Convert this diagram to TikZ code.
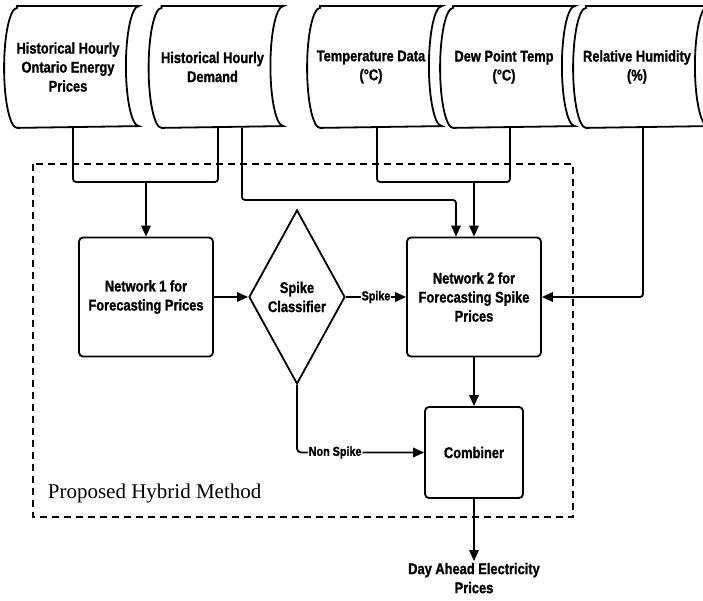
\documentclass[tikz,border=0pt]{standalone}
\usepackage{fontspec}
\setmainfont{Liberation Serif}
\newfontfamily\boxfont[FakeStretch=0.83,FakeBold=1.2]{Liberation Sans}
\usetikzlibrary{arrows.meta,shapes.geometric}

\tikzset{
  lbl/.style={font=\boxfont\bfseries\fontsize{15.5}{19}\selectfont, align=center},
  store/.style={lbl, minimum width=120pt, minimum height=120pt, inner sep=0pt},
  box/.style={lbl, draw, rounded corners=4pt, minimum width=134pt, minimum height=119pt, inner sep=2pt},
  tag/.style={font=\boxfont\bfseries\fontsize{13}{14}\selectfont, fill=white, inner sep=1pt},
  arr/.style={-{Triangle[length=11pt,width=9.5pt]}},
}

\begin{document}
\begin{tikzpicture}[x=1pt,y=1pt,line width=1.8pt]
\useasboundingbox (0,0) rectangle (703,-601);

% data sources
\foreach \n/\x/\t in {d1/68/{Historical Hourly\\Ontario Energy\\Prices},
                      d2/212.5/{Historical Hourly\\Demand},
                      d3/371/{Temperature Data\\(°C)},
                      d4/504/{Dew Point Temp\\(°C)},
                      d5/637/{Relative Humidity\\(\%)}}{
  \node[store] (\n) at (\x,-67) {\t};
  \draw ([xshift=10pt]\n.north west) -- ([xshift=10pt]\n.north east)
    arc[start angle=90,end angle=270,x radius=13pt,y radius=60pt]
    -- ([xshift=10pt]\n.south west)
    arc[start angle=270,end angle=90,x radius=13pt,y radius=60pt] -- cycle;
}

% hybrid method frame
\draw[dash pattern=on 7pt off 5pt] (33,-164) rectangle (573,-517);
\node[anchor=base west, inner sep=0pt, font=\fontsize{21}{23}\selectfont] (title) at (47,-498) {Proposed Hybrid Method};

\node[box] (net1) at (146,-297) {Network 1 for\\Forecasting Prices};
\node[lbl, draw, diamond, aspect=0.55, minimum width=96pt, minimum height=174pt, inner sep=0pt] (cls) at (297,-297) {Spike\\Classifier};
\node[box] (net2) at (474,-297) {Network 2 for\\Forecasting Spike\\Prices};
\node[box, minimum width=98pt, minimum height=91pt] (comb) at (474,-452.5) {Combiner};
\node[lbl, anchor=north, inner sep=1pt] (out) at (474,-561) {Day Ahead Electricity\\Prices};

\coordinate (j1) at (146,-182);
\coordinate (j2) at (474,-182);

% connectors
\draw[rounded corners=3pt] ([xshift=5pt]d1.south) |- (j1) -| ([xshift=5.5pt]d2.south);
\draw[arr] (j1) -- (net1.north);
\draw[rounded corners=3pt] ([xshift=6pt]d3.south) |- (j2) -| ([xshift=6pt]d4.south);
\draw[arr] (j2) -- (net2.north);
\draw[arr, rounded corners=3pt] ([xshift=29.5pt]d2.south) |- (300,-200) -| ([xshift=-18pt]net2.north);
\draw[arr, rounded corners=3pt] ([xshift=6pt]d5.south) |- (net2.east);
\draw[arr] (net1.east) -- (cls.west);
\draw[arr] (cls.east) -- node[tag] {Spike} (net2.west);
\draw[arr, rounded corners=4pt] (cls.south) |- node[tag, pos=0.65] {Non Spike} (comb.west);
\draw[arr] (net2.south) -- (comb.north);
\draw[arr] (comb.south) -- (out.north);
\end{tikzpicture}
\end{document}
